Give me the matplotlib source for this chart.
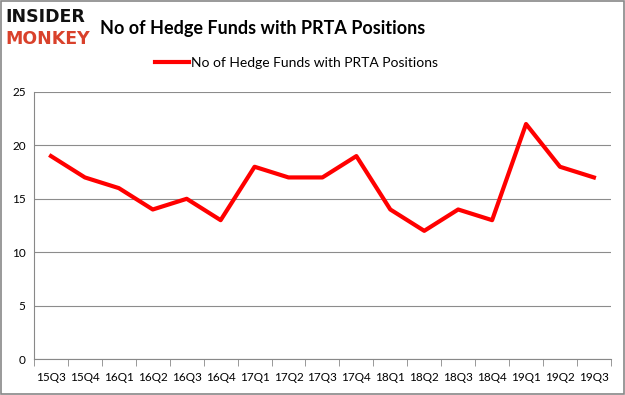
import matplotlib.pyplot as plt
from matplotlib.patches import Rectangle

quarters = ['15Q3', '15Q4', '16Q1', '16Q2', '16Q3', '16Q4', '17Q1', '17Q2', '17Q3',
            '17Q4', '18Q1', '18Q2', '18Q3', '18Q4', '19Q1', '19Q2', '19Q3']
funds = [19, 17, 16, 14, 15, 13, 18, 17, 17, 19, 14, 12, 14, 13, 22, 18, 17]
label = 'No of Hedge Funds with PRTA Positions'

plt.rcParams['font.family'] = ['Lato', 'DejaVu Sans']

fig = plt.figure(figsize=(6.25, 3.95), dpi=100)
fig.patches.append(Rectangle((0.001, 0.002), 0.997, 0.995, transform=fig.transFigure,
                             fill=False, edgecolor='#888888', linewidth=1.2))

ax = fig.add_axes([0.0544, 0.0911, 0.923, 0.676])
x = list(range(len(quarters)))
ax.plot(x, funds, color='#ff0000', linewidth=3, label=label)

ax.set_xlim(-0.5, len(quarters) - 0.5)
ax.set_ylim(0, 25)
ax.set_yticks(range(0, 26, 5))
ax.set_xticks(x)
ax.set_xticklabels(quarters, fontsize=8.5)
ax.set_xticks([i - 0.5 for i in range(len(quarters) + 1)], minor=True)
ax.tick_params(axis='x', which='major', length=0, pad=9)
ax.tick_params(axis='x', which='minor', length=5, color='#888888')
ax.tick_params(axis='y', length=0, labelsize=8.5, pad=6)
ax.grid(axis='y', color='#8c8c8c', linewidth=0.8)
ax.set_axisbelow(True)
for s in ['top', 'right']:
    ax.spines[s].set_visible(False)
ax.spines['left'].set_color('#888888')
ax.spines['bottom'].set_color('#888888')

ax.legend(loc='lower center', bbox_to_anchor=(0.455, 1.04), frameon=False, fontsize=10,
          handlelength=2.4, handletextpad=0.15)

fig.text(0.16, 0.928, 'No of Hedge Funds with PRTA Positions', fontsize=13,
         fontweight='bold', va='center', ha='left')
fig.text(0.008, 0.958, 'INSIDER', fontsize=12.5, fontweight='black', color='#111111',
         va='center', ha='left', family='DejaVu Sans')
fig.text(0.008, 0.9, 'MONKEY', fontsize=12.5, fontweight='black', color='#d9412b',
         va='center', ha='left', family='DejaVu Sans')

fig.savefig('out.png', dpi=100)
